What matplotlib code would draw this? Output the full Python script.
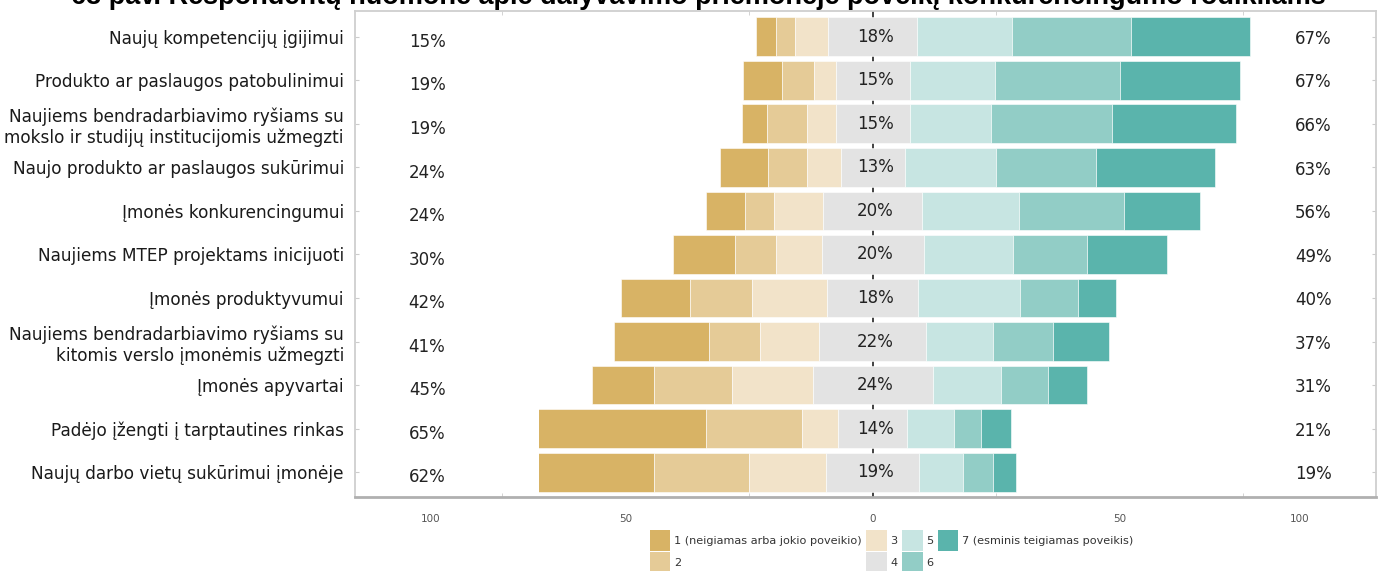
import numpy as np
import matplotlib
matplotlib.use("Agg")
from matplotlib import pyplot as plt
from matplotlib.patches import Rectangle, Patch

# rows from top to bottom
labels = [
    "Naujų kompetencijų įgijimui",
    "Produkto ar paslaugos patobulinimui",
    "Naujiems bendradarbiavimo ryšiams su\nmokslo ir studijų institucijomis užmegzti",
    "Naujo produkto ar paslaugos sukūrimui",
    "Įmonės konkurencingumui",
    "Naujiems MTEP projektams inicijuoti",
    "Įmonės produktyvumui",
    "Naujiems bendradarbiavimo ryšiams su\nkitomis verslo įmonėmis užmegzti",
    "Įmonės apyvartai",
    "Padėjo įžengti į tarptautines rinkas",
    "Naujų darbo vietų sukūrimui įmonėje",
]

# answer shares 1..7 (%)
s1 = [4.1, 7.9, 5.1, 9.8, 7.9, 12.5, 13.8, 19.2, 12.5, 38.2, 27.1]
s2 = [3.7, 6.5, 8.2, 7.9, 5.9, 8.4, 12.7, 10.3, 15.9, 19.4, 19.4]
s3 = [6.8, 4.3, 5.7, 6.7, 10.0, 9.2, 15.1, 12.0, 16.3, 7.4, 15.5]
s4 = [18.0, 15.0, 15.0, 13.0, 20.0, 20.6, 18.5, 21.6, 24.3, 14.0, 18.9]
s5 = [19.2, 17.3, 16.5, 18.4, 19.7, 18.2, 20.5, 13.5, 13.8, 9.5, 8.9]
s6 = [24.1, 25.2, 24.4, 20.3, 21.1, 14.8, 11.9, 12.2, 9.5, 5.4, 6.0]
s7 = [24.1, 24.4, 25.2, 24.1, 15.4, 16.2, 7.6, 11.3, 7.9, 6.2, 4.6]

pct_low = [15, 19, 19, 24, 24, 30, 42, 41, 45, 65, 62]
pct_mid = [18, 15, 15, 13, 20, 20, 18, 22, 24, 14, 19]
pct_high = [67, 67, 66, 63, 56, 49, 40, 37, 31, 21, 19]

legend_labels = ["1 (neigiamas arba jokio poveikio)", "2", "3", "4", "5", "6",
                 "7 (esminis teigiamas poveikis)"]
colors = ["#D8B365", "#E5CB97", "#F2E3C9", "#E3E3E3", "#C7E5E2", "#92CDC6", "#5AB4AC"]

title = "63 pav. Respondentų nuomonė apie dalyvavimo priemonėje poveikį konkurencingumo rodikliams"

plt.rcParams['font.family'] = ['DejaVu Sans']

fig = plt.figure(figsize=(13.81, 5.71), dpi=100)
ax = fig.add_axes([355 / 1381, 74 / 571, 1021 / 1381, 486 / 571])

n = len(labels)
y = np.arange(n)[::-1]
segs = np.array([s1, s2, s3, s4, s5, s6, s7])
start = -(segs[0] + segs[1] + segs[2] + segs[3] / 2)

# the two longest bars are cut at the left in the original
clip = Rectangle((-67.6, -5), 300, 30, transform=ax.transData)

left = start.copy()
for k in range(7):
    bars = ax.barh(y, segs[k], left=left, height=0.89, color=colors[k],
                   edgecolor='white', linewidth=0.4, zorder=2)
    for b in bars:
        b.set_clip_path(clip)
    left = left + segs[k]

ax.axvline(0, color='#222222', lw=1.2, zorder=1)

for i in range(n):
    ax.text(-90.2, y[i] - 0.12, f"{pct_low[i]}%", ha='center', va='center',
            fontsize=12, color='#222222', zorder=3)
    ax.text(0.5, y[i], f"{pct_mid[i]}%", ha='center', va='center',
            fontsize=12, color='#222222', zorder=3)
    ax.text(89.2, y[i] - 0.05, f"{pct_high[i]}%", ha='center', va='center',
            fontsize=12, color='#222222', zorder=3)

ax.set_xlim(-104.8, 101.9)
ax.set_ylim(-0.57, 10.59)
ax.set_yticks(y)
ax.set_yticklabels(labels, fontsize=12.2, color='#1a1a1a')
ax.tick_params(axis='y', direction='in', length=3, color='#cccccc', right=True, pad=8)

ax.set_xticks([-89.5, -50, 0, 50, 86.5])
ax.set_xticklabels(["100", "50", "0", "50", "100"], fontsize=7.5, color='#555555',
                   family='Liberation Sans Narrow')
ax.set_xticks([-75, -50, -25, 0, 25, 50, 75], minor=True)
ax.tick_params(axis='x', which='major', length=0, pad=12)
ax.tick_params(axis='x', which='minor', direction='in', length=3, color='#cccccc', top=True)

for sp in ax.spines.values():
    sp.set_color('#cfcfcf')
    sp.set_linewidth(1.3)
ax.spines['bottom'].set_color('#b0b0b0')
ax.spines['bottom'].set_linewidth(2)

handles = [Patch(facecolor=c, edgecolor='none') for c in colors]
fig.legend(handles, legend_labels, ncol=4, loc='upper left',
           bbox_to_anchor=(644 / 1381, 47 / 571), frameon=False,
           prop={'family': 'Liberation Sans Narrow', 'size': 8.1},
           handlelength=1.85, handleheight=2.6, handletextpad=0.3,
           columnspacing=0.4, labelspacing=0.05, borderpad=0, labelcolor='#333333')

fig.text(698 / 1381, 1 - 4 / 571, title, ha='center', va='baseline',
         fontsize=19.5, fontweight='bold', family='Liberation Sans', color='black')

fig.savefig("out.png", dpi=100)
